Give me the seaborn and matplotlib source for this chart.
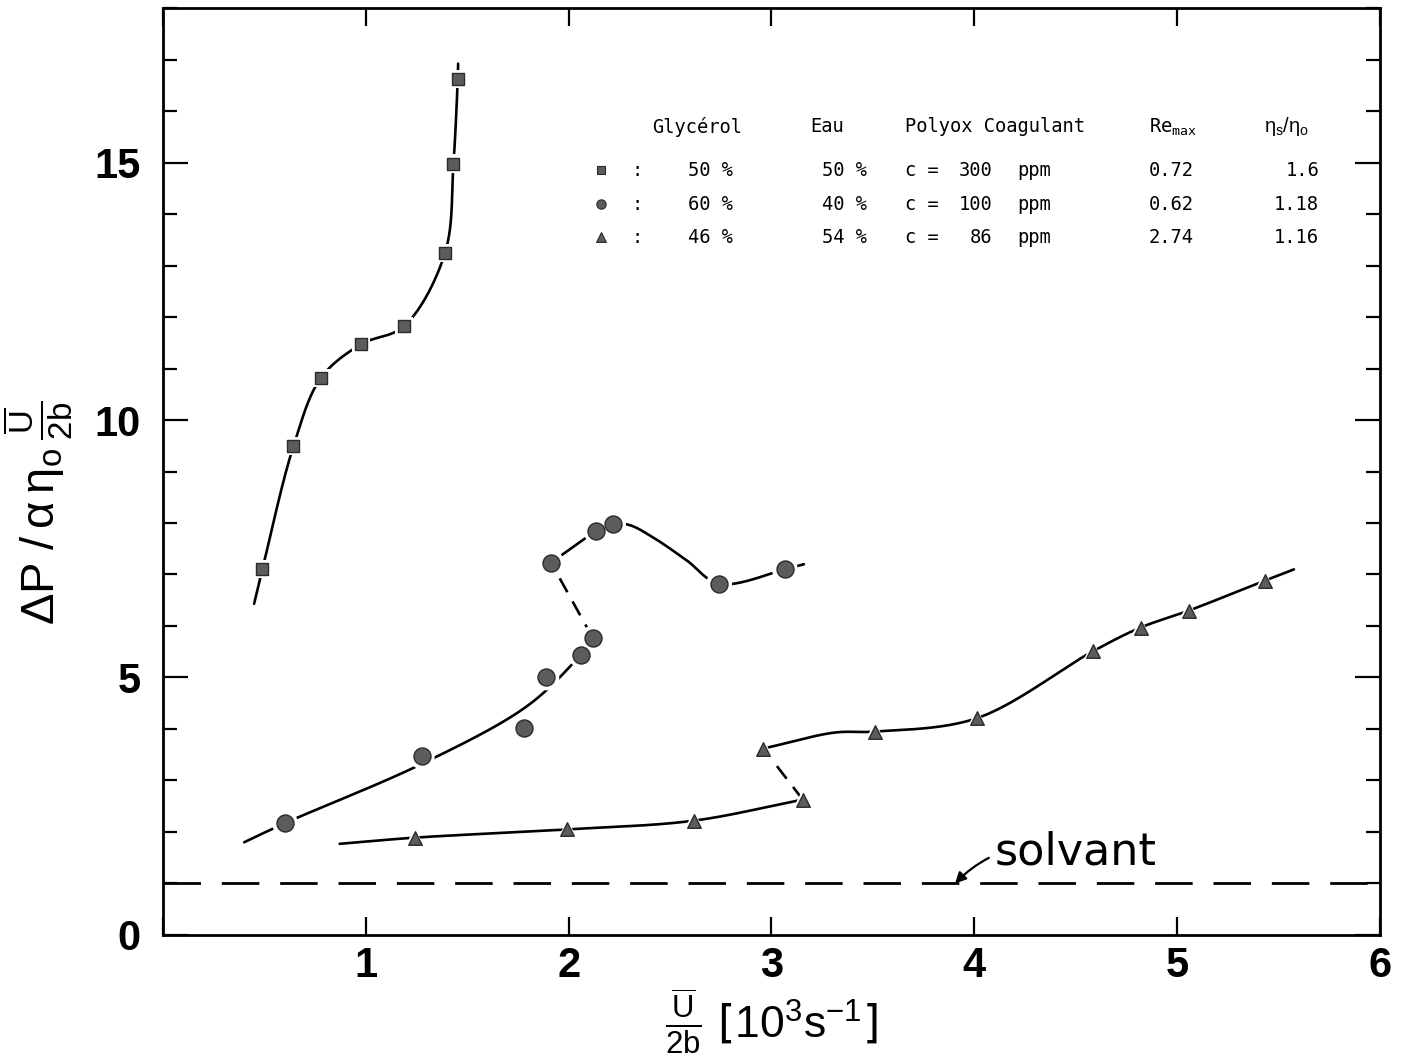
import numpy as np
import pandas as pd
import matplotlib
matplotlib.use("Agg")
import matplotlib.pyplot as plt
import seaborn as sns

# ---------------- data ----------------
# 50 % glycerol, 300 ppm (squares)
sq_x = [0.49, 0.643, 0.779, 0.976, 1.188, 1.39, 1.432, 1.453]
sq_y = [7.10, 9.49, 10.82, 11.47, 11.82, 13.24, 14.98, 16.62]
sq_curve_x = [0.449, 0.49, 0.643, 0.779, 0.976, 1.188, 1.39, 1.432, 1.453, 1.455]
sq_curve_y = [6.43, 7.10, 9.49, 10.82, 11.47, 11.82, 13.24, 14.98, 16.62, 16.92]

# 60 % glycerol, 100 ppm (circles)
ci_x = [0.60, 1.276, 1.78, 1.89, 2.06, 2.12, 1.913, 2.137, 2.219, 2.742, 3.066]
ci_y = [2.18, 3.47, 4.01, 5.00, 5.44, 5.76, 7.23, 7.84, 7.98, 6.82, 7.10]
ci_low_curve_x = [0.40, 0.60, 1.28, 1.79, 2.02, 2.12]
ci_low_curve_y = [1.80, 2.17, 3.33, 4.43, 5.27, 5.76]
ci_jump_x = [2.12, 1.913]
ci_jump_y = [5.76, 7.23]
ci_up_curve_x = [1.913, 2.137, 2.219, 2.30, 2.42, 2.58, 2.742, 3.066, 3.16]
ci_up_curve_y = [7.23, 7.84, 7.98, 7.96, 7.71, 7.28, 6.82, 7.10, 7.20]

# 46 % glycerol, 86 ppm (triangles)
tr_x = [1.241, 1.994, 2.617, 3.154, 2.96, 3.51, 4.013, 4.585, 4.82, 5.058, 5.432]
tr_y = [1.89, 2.05, 2.22, 2.63, 3.62, 3.95, 4.21, 5.51, 5.97, 6.30, 6.88]
tr_low_curve_x = [0.871, 1.241, 1.994, 2.617, 3.154]
tr_low_curve_y = [1.77, 1.89, 2.05, 2.22, 2.63]
tr_jump_x = [3.154, 2.96]
tr_jump_y = [2.63, 3.62]
tr_up_curve_x = [2.96, 3.31, 3.51, 4.013, 4.585, 4.82, 5.058, 5.432, 5.576]
tr_up_curve_y = [3.62, 3.93, 3.95, 4.21, 5.51, 5.97, 6.30, 6.88, 7.10]

solvant_y = 1.0

# legend table
tbl_headers = ["Glycérol", "Eau", "Polyox Coagulant"]
tbl_glycerol = ["50 %", "60 %", "46 %"]
tbl_eau = ["50 %", "40 %", "54 %"]
tbl_conc = ["300", "100", "86"]
tbl_remax = ["0.72", "0.62", "2.74"]
tbl_ratio = ["1.6", "1.18", "1.16"]
tbl_markers = ["s", "o", "^"]

x_ticks = [0, 1, 2, 3, 4, 5, 6]
x_ticklabels = ["", "1", "2", "3", "4", "5", "6"]
y_ticks = [0, 5, 10, 15]

# ---------------- helpers ----------------
YS = 0.254  # aspect factor (pixel distance per y unit / per x unit)


def smooth(xs, ys, n=40, alpha=0.5):
    P = np.column_stack([np.asarray(xs, float), np.asarray(ys, float) * YS])
    P = np.vstack([2 * P[0] - P[1], P, 2 * P[-1] - P[-2]])
    out = []
    for i in range(1, len(P) - 2):
        p0, p1, p2, p3 = P[i - 1], P[i], P[i + 1], P[i + 2]
        t0 = 0.0
        t1 = t0 + max(np.linalg.norm(p1 - p0), 1e-9) ** alpha
        t2 = t1 + max(np.linalg.norm(p2 - p1), 1e-9) ** alpha
        t3 = t2 + max(np.linalg.norm(p3 - p2), 1e-9) ** alpha
        t = np.linspace(t1, t2, n)[:, None]
        A1 = (t1 - t) / (t1 - t0) * p0 + (t - t0) / (t1 - t0) * p1
        A2 = (t2 - t) / (t2 - t1) * p1 + (t - t1) / (t2 - t1) * p2
        A3 = (t3 - t) / (t3 - t2) * p2 + (t - t2) / (t3 - t2) * p3
        B1 = (t2 - t) / (t2 - t0) * A1 + (t - t0) / (t2 - t0) * A2
        B2 = (t3 - t) / (t3 - t1) * A2 + (t - t1) / (t3 - t1) * A3
        C = (t2 - t) / (t2 - t1) * B1 + (t - t1) / (t2 - t1) * B2
        out.append(C if i == len(P) - 3 else C[:-1])
    C = np.vstack(out)
    return pd.DataFrame({"x": C[:, 0], "y": C[:, 1] / YS})


# ---------------- figure ----------------
sns.set_theme(style="ticks")
plt.rcParams["font.family"] = ["Liberation Sans", "DejaVu Sans"]
plt.rcParams["mathtext.fontset"] = "dejavusans"
plt.rcParams["mathtext.default"] = "regular"
for k in ["text.color", "axes.labelcolor", "xtick.color", "ytick.color"]:
    plt.rcParams[k] = "black"

fig = plt.figure(figsize=(14.09, 10.56), dpi=100)
ax = fig.add_axes([0.1157, 0.1146, 0.8637, 0.8778])

LW = 1.9
for cx, cy in [(sq_curve_x, sq_curve_y), (ci_low_curve_x, ci_low_curve_y),
               (ci_up_curve_x, ci_up_curve_y), (tr_low_curve_x, tr_low_curve_y),
               (tr_up_curve_x, tr_up_curve_y)]:
    df = smooth(cx, cy)
    sns.lineplot(data=df, x="x", y="y", sort=False, estimator=None, ax=ax,
                 color="black", lw=LW, zorder=2)

for jx, jy in [(ci_jump_x, ci_jump_y), (tr_jump_x, tr_jump_y)]:
    sns.lineplot(x=jx, y=jy, sort=False, estimator=None, ax=ax, color="black",
                 lw=LW, linestyle=(0, (6, 4)), zorder=2)

# solvent reference
ax.axhline(solvant_y, color="black", lw=2.0, linestyle=(0, (13.5, 7.5)), zorder=2)

FILL = "#5c5c5c"
EDGE = "#2b2b2b"
for mx, my, mk, s in [(sq_x, sq_y, "s", 75), (ci_x, ci_y, "o", 150), (tr_x, tr_y, "^", 95)]:
    sns.scatterplot(x=mx, y=my, marker=mk, s=s * 2.3, color="white", edgecolor="none",
                    ax=ax, zorder=3, legend=False)
    sns.scatterplot(x=mx, y=my, marker=mk, s=s, color=FILL, edgecolor=EDGE,
                    linewidth=1.0, ax=ax, zorder=4, legend=False)

# axes styling
ax.set_xlim(0, 6)
ax.set_ylim(0, 18)
ax.set_xticks(x_ticks)
ax.set_xticklabels(x_ticklabels)
ax.set_yticks(y_ticks)
ax.set_yticks(np.arange(0, 19, 1), minor=True)
for sp in ax.spines.values():
    sp.set_visible(True)
    sp.set_linewidth(2.0)
    sp.set_color("black")
ax.tick_params(axis="x", which="major", direction="in", top=True, bottom=True,
               length=13, width=1.6, pad=8, labelsize=30)
ax.tick_params(axis="y", which="major", direction="in", left=True, right=True,
               length=18, width=1.6, pad=16, labelsize=30)
ax.tick_params(axis="y", which="minor", direction="in", left=True, right=True,
               length=10, width=1.6)
for lab in ax.get_xticklabels() + ax.get_yticklabels():
    lab.set_fontweight("bold")
ax.grid(False)

ax.set_xlabel(r"$\frac{\overline{U}}{2b}\;\left[10^3 s^{-1}\right]$", fontsize=32,
              labelpad=0)
ax.set_ylabel(r"$\Delta P\;/\,\alpha\,\eta_o\,\frac{\overline{U}}{2b}$", fontsize=34)
ax.yaxis.set_label_coords(-0.072, 0.455)

# solvant annotation
ax.annotate("solvant", xy=(3.905, 1.0), xytext=(4.10, 1.62), fontsize=32,
            family=["DejaVu Sans"], va="center", ha="left",
            arrowprops=dict(arrowstyle="-|>", color="black", lw=1.6,
                            connectionstyle="arc3,rad=0.3", shrinkA=2, shrinkB=0,
                            mutation_scale=16))

# legend table
MONO = ["DejaVu Sans Mono"]
fs = 13.5
yh = 15.69
rows_y = [14.85, 14.19, 13.55]
ax.text(2.41, yh, tbl_headers[0], fontsize=fs, family=MONO, va="center")
ax.text(3.19, yh, tbl_headers[1], fontsize=fs, family=MONO, va="center")
ax.text(3.66, yh, tbl_headers[2], fontsize=fs, family=MONO, va="center")
ax.text(4.86, yh, r"Re$_{max}$", fontsize=fs, family=MONO, va="center")
ax.text(5.43, yh, r"$\eta_s/\eta_o$", fontsize=fs + 1, va="center")
for i, yy in enumerate(rows_y):
    ax.scatter([2.16], [yy], marker=tbl_markers[i], s=[28, 45, 50][i],
               color=FILL, edgecolor=EDGE, linewidth=0.8, zorder=4)
    ax.text(2.31, yy, ":", fontsize=fs, family=MONO, va="center")
    ax.text(2.81, yy, tbl_glycerol[i], fontsize=fs, family=MONO, va="center", ha="right")
    ax.text(3.47, yy, tbl_eau[i], fontsize=fs, family=MONO, va="center", ha="right")
    ax.text(3.66, yy, "c =", fontsize=fs, family=MONO, va="center")
    ax.text(4.09, yy, tbl_conc[i], fontsize=fs, family=MONO, va="center", ha="right")
    ax.text(4.21, yy, "ppm", fontsize=fs, family=MONO, va="center")
    ax.text(4.86, yy, tbl_remax[i], fontsize=fs, family=MONO, va="center")
    ax.text(5.70, yy, tbl_ratio[i], fontsize=fs, family=MONO, va="center", ha="right")

fig.savefig("out.png", dpi=100, facecolor="white")
